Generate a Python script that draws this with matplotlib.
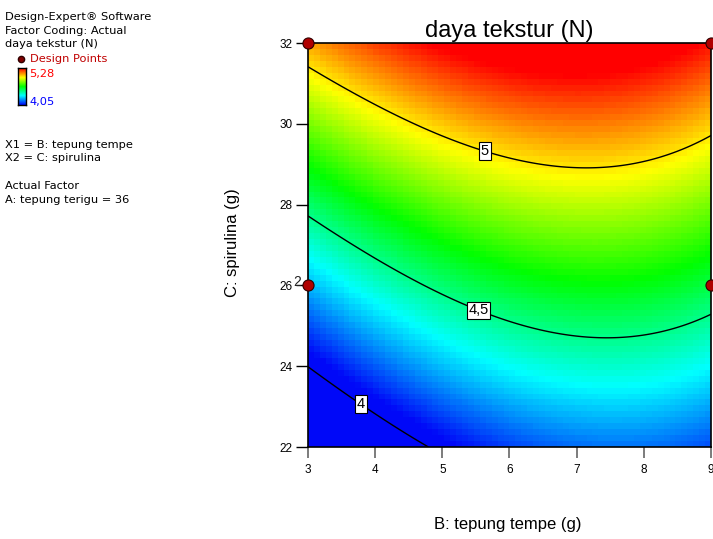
import numpy as np
import matplotlib
matplotlib.use("Agg")
import matplotlib.pyplot as plt
from matplotlib.colors import LinearSegmentedColormap, Normalize

plt.rcParams['font.family'] = ['Liberation Sans', 'DejaVu Sans']

# Factor ranges
b_range = [3, 9]        # B: tepung tempe (g)
c_range = [22, 32]      # C: spirulina (g)
x_ticks = [3, 4, 5, 6, 7, 8, 9]
y_ticks = [22, 24, 26, 28, 30, 32]

# Response model in coded units (x1 = B, x2 = C)
coef_names = ["a", "x1", "x2", "x1^2", "x2^2", "x1*x2", "x1^3"]
coef_values = [4.733, 0.1748, 0.618, -0.185, 0.005, -0.0539, -0.030]

# Response range shown by the colour scale
resp_min, resp_max = 4.05, 5.28

# Contour levels and label text
levels = [4.0, 4.5, 5.0]
level_labels = {4.0: "4", 4.5: "4,5", 5.0: "5"}
label_pos = [(3.82, 23.14), (5.56, 25.47), (5.65, 29.42)]

# Design points (B, C, replicate count)
pts_b = [3, 9, 3, 9]
pts_c = [32, 32, 26, 26]
pts_n = [1, 1, 2, 1]


def response(b, c):
    x1 = (b - 6.0) / 3.0
    x2 = (c - 27.0) / 5.0
    a, b1, b2, b11, b22, b12, b111 = coef_values
    return (a + b1 * x1 + b2 * x2 + b11 * x1 ** 2 + b22 * x2 ** 2
            + b12 * x1 * x2 + b111 * x1 ** 3)


cmap = LinearSegmentedColormap.from_list(
    "de", [(0.0, "#0008f8"), (0.25, "#00ffff"), (0.5, "#00ff00"),
           (0.75, "#ffff00"), (1.0, "#ff0000")])
norm = Normalize(resp_min, resp_max, clip=True)

fig = plt.figure(figsize=(7.13, 5.39), dpi=100)
ax = fig.add_axes([308 / 713, 92 / 539, 403 / 713, 404 / 539])

# Blocky colour surface
nb, nc = 68, 68
be = np.linspace(*b_range, nb + 1)
ce = np.linspace(*c_range, nc + 1)
bc = 0.5 * (be[:-1] + be[1:])
cc = 0.5 * (ce[:-1] + ce[1:])
BB, CC = np.meshgrid(bc, cc)
ax.pcolormesh(be, ce, response(BB, CC), cmap=cmap, norm=norm, shading="flat")

# Smooth contour lines
bf = np.linspace(*b_range, 400)
cf = np.linspace(*c_range, 400)
BF, CF = np.meshgrid(bf, cf)
cs = ax.contour(BF, CF, response(BF, CF), levels=levels, colors="black",
                linewidths=1.0)
texts = ax.clabel(cs, levels=levels, fmt=level_labels, manual=label_pos,
                  inline=False, fontsize=10.5)
for t in texts:
    t.set_rotation(0)
    t.set_bbox(dict(boxstyle="square,pad=0.12", facecolor="white",
                    edgecolor="black", linewidth=0.8))

# Design points
ax.scatter(pts_b, pts_c, s=64, color="#b00000", edgecolors="#300000",
           linewidths=0.8, zorder=5, clip_on=False)
for b, c, n in zip(pts_b, pts_c, pts_n):
    if n > 1:
        ax.annotate(str(n), (b, c), xytext=(-8, 2.5), textcoords="offset points",
                    fontsize=10, ha="center", va="center", color="#222222",
                    annotation_clip=False)

ax.set_xlim(*b_range)
ax.set_ylim(*c_range)
ax.set_xticks(x_ticks)
ax.set_yticks(y_ticks)
ax.tick_params(axis="x", length=8, width=1.2, color="#666666", labelsize=8.5,
               pad=4)
ax.tick_params(axis="y", length=9, width=1.0, color="black", labelsize=8.5,
               pad=2)
for sp in ax.spines.values():
    sp.set_linewidth(1.2)

ax.set_title("daya tekstur (N)", fontsize=17, pad=4)
fig.text(508 / 713, 1 - 524 / 539, "B: tepung tempe (g)", fontsize=12,
         ha="center", va="center")
fig.text(232 / 713, 1 - 243 / 539, "C: spirulina (g)", fontsize=12,
         ha="center", va="center", rotation=90)

# Side panel
side_font = dict(family=["DejaVu Sans"], fontsize=8.2)


def side(x, y, s, color="black"):
    fig.text(x / 713, 1 - y / 539, s, color=color, ha="left", va="center",
             **side_font)


side(5, 17, "Design-Expert® Software")
side(5, 31, "Factor Coding: Actual")
side(5, 44, "daya tekstur (N)")
side(30, 59, "Design Points", color="#c00000")
fig.lines.append(plt.Line2D([20.5 / 713], [1 - 59 / 539], marker="o",
                            markersize=4.5, color="#800000",
                            markeredgecolor="#300000",
                            transform=fig.transFigure))
side(29, 74, "5,28", color="red")
side(29, 102, "4,05", color="blue")
side(5, 145, "X1 = B: tepung tempe")
side(5, 158, "X2 = C: spirulina")
side(5, 186, "Actual Factor")
side(5, 200, "A: tepung terigu = 36")

cax = fig.add_axes([18 / 713, 1 - 105 / 539, 8 / 713, 37 / 539])
cax.imshow(np.linspace(1, 0, 100)[:, None], aspect="auto", cmap=cmap,
           extent=[0, 1, 0, 1])
cax.set_xticks([])
cax.set_yticks([])
for sp in cax.spines.values():
    sp.set_linewidth(1.0)

fig.savefig("out.png", dpi=100)
